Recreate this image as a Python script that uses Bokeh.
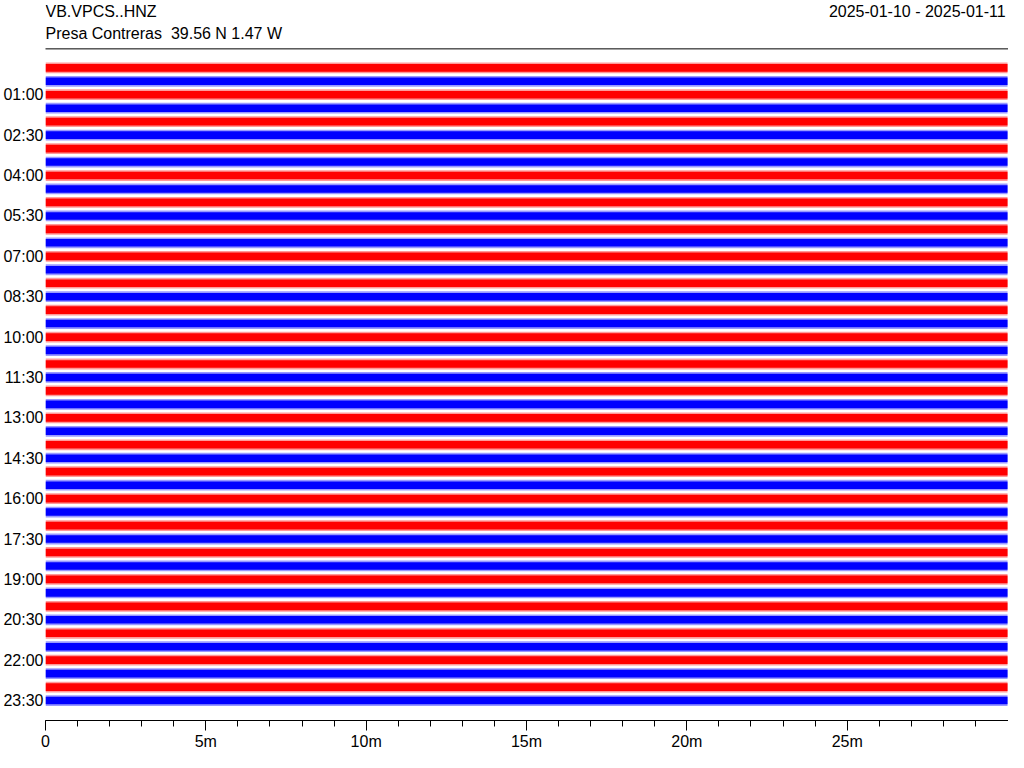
from bokeh.plotting import figure
from bokeh.models import Range1d, FixedTicker, ColumnDataSource
from bokeh.embed import file_html
from bokeh.resources import INLINE
from bokeh.core.properties import value

# ---------------- data ----------------
station = "VB.VPCS..HNZ"
location = "Presa Contreras  39.56 N 1.47 W"
date_span = "2025-01-10 - 2025-01-11"

# start of each 30-minute trace line (hours after 00:00)
row_start_hours = [0.0, 0.5, 1.0, 1.5, 2.0, 2.5, 3.0, 3.5, 4.0, 4.5, 5.0, 5.5,
                   6.0, 6.5, 7.0, 7.5, 8.0, 8.5, 9.0, 9.5, 10.0, 10.5, 11.0, 11.5,
                   12.0, 12.5, 13.0, 13.5, 14.0, 14.5, 15.0, 15.5, 16.0, 16.5, 17.0, 17.5,
                   18.0, 18.5, 19.0, 19.5, 20.0, 20.5, 21.0, 21.5, 22.0, 22.5, 23.0, 23.5]
trace_length_min = 30

# envelope of each trace (fraction of half the line spacing): steady background noise
core_amp = [0.57, 0.56, 0.57, 0.56, 0.57, 0.56, 0.57, 0.56, 0.57, 0.56, 0.57, 0.56,
            0.57, 0.56, 0.57, 0.56, 0.57, 0.56, 0.57, 0.56, 0.57, 0.56, 0.57, 0.56,
            0.57, 0.56, 0.57, 0.56, 0.57, 0.56, 0.57, 0.56, 0.57, 0.56, 0.57, 0.56,
            0.57, 0.56, 0.57, 0.56, 0.57, 0.56, 0.57, 0.56, 0.57, 0.56, 0.57, 0.56]
peak_amp = [0.80, 0.80, 0.80, 0.80, 0.80, 0.80, 0.80, 0.80, 0.80, 0.80, 0.80, 0.80,
            0.80, 0.80, 0.80, 0.80, 0.80, 0.80, 0.80, 0.80, 0.80, 0.80, 0.80, 0.80,
            0.80, 0.80, 0.80, 0.80, 0.80, 0.80, 0.80, 0.80, 0.80, 0.80, 0.80, 0.80,
            0.80, 0.80, 0.80, 0.80, 0.80, 0.80, 0.80, 0.80, 0.80, 0.80, 0.80, 0.80]

y_tick_hours = [1.0, 2.5, 4.0, 5.5, 7.0, 8.5, 10.0, 11.5, 13.0, 14.5, 16.0, 17.5,
                19.0, 20.5, 22.0, 23.5]
y_tick_labels = ["01:00", "02:30", "04:00", "05:30", "07:00", "08:30", "10:00", "11:30",
                 "13:00", "14:30", "16:00", "17:30", "19:00", "20:30", "22:00", "23:30"]
x_tick_minutes = [0, 5, 10, 15, 20, 25]
x_tick_labels = ["0", "5m", "10m", "15m", "20m", "25m"]
x_minor_minutes = list(range(0, 30))

palette = ["#FF0000", "#0000FF"]
FONT = "Liberation Sans"

spacing = 0.5  # hours between lines
n = len(row_start_hours)
src = ColumnDataSource(dict(
    left=[0] * n,
    right=[trace_length_min] * n,
    core_top=[h - a * spacing / 2 for h, a in zip(row_start_hours, core_amp)],
    core_bot=[h + a * spacing / 2 for h, a in zip(row_start_hours, core_amp)],
    peak_top=[h - a * spacing / 2 for h, a in zip(row_start_hours, peak_amp)],
    peak_bot=[h + a * spacing / 2 for h, a in zip(row_start_hours, peak_amp)],
    color=[palette[i % 2] for i in range(n)],
))

p = figure(width=1008, height=752, output_backend="svg", toolbar_location=None,
           x_range=Range1d(0, 30.03), y_range=Range1d(24.2407, -2.5),
           min_border_left=40, min_border_right=0, min_border_top=0, min_border_bottom=30)
p.xgrid.visible = False
p.ygrid.visible = False
p.outline_line_color = None
p.background_fill_color = "white"
p.border_fill_color = "white"

p.quad(left="left", right="right", top="peak_top", bottom="peak_bot", source=src,
       fill_color="color", fill_alpha=0.4, line_color=None)
p.quad(left="left", right="right", top="core_top", bottom="core_bot", source=src,
       fill_color="color", fill_alpha=1.0, line_color=None)

# header (station / location / date range) and rule
loc_text = location.replace("  ", "\u00a0 ")  # keep the double space visible in SVG
p.text(x=[0, 0], y=[-2.074, -1.2593], text=[station, loc_text],
       text_font=value(FONT), text_font_size="16px", text_color="black",
       text_baseline="middle", text_align="left")
p.text(x=[29.94], y=[-2.074], text=[date_span],
       text_font=value(FONT), text_font_size="16px", text_color="black",
       text_baseline="middle", text_align="right")
p.segment(x0=[-5], y0=[-0.7037], x1=[35], y1=[-0.7037], line_color="black", line_width=1)

# x axis
xa = p.xaxis[0]
xa.ticker = FixedTicker(ticks=x_tick_minutes, minor_ticks=x_minor_minutes)
xa.major_label_overrides = {t: l for t, l in zip(x_tick_minutes, x_tick_labels)}
xa.axis_line_color = "black"
xa.axis_line_width = 1
xa.major_tick_line_color = "black"
xa.minor_tick_line_color = "black"
xa.major_tick_out = 10
xa.major_tick_in = 0
xa.minor_tick_out = 6
xa.minor_tick_in = 0
xa.major_label_standoff = 2
xa.major_label_text_font = FONT
xa.major_label_text_font_size = "16px"
xa.major_label_text_color = "black"

# y axis (time labels)
ya = p.yaxis[0]
ya.ticker = FixedTicker(ticks=y_tick_hours, minor_ticks=[])
ya.major_label_overrides = {t: l for t, l in zip(y_tick_hours, y_tick_labels)}
ya.axis_line_color = None
ya.major_tick_line_color = None
ya.minor_tick_line_color = None
ya.major_tick_out = 0
ya.major_tick_in = 0
ya.major_label_standoff = 2
ya.major_label_text_font = FONT
ya.major_label_text_font_size = "16px"
ya.major_label_text_color = "black"

open("out.html", "w").write(file_html(p, INLINE))
